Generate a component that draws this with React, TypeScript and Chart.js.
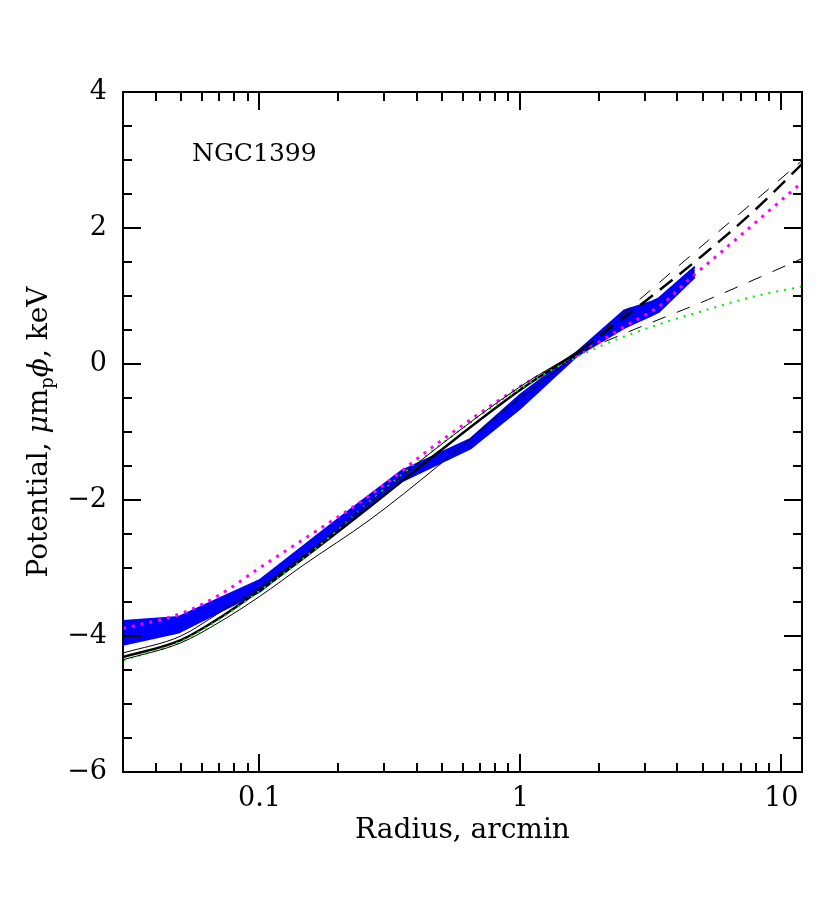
import { useEffect, useRef } from 'react';
import { Chart, registerables } from 'chart.js';

Chart.register(...registerables);

// ---- axis / labels ----
const xMin = 0.03;
const xMax = 12;
const yMin = -6;
const yMax = 4;
const xTickLabels = [0.1, 1, 10];
const yMajorStep = 2;
const yMinorStep = 0.5;
const objectName = 'NGC1399';
const xTitle = 'Radius, arcmin';

// ---- observed potential band (blue) ----
const rBlue = [0.03, 0.049, 0.1, 0.2, 0.35, 0.644, 1.0, 1.65, 2.5, 3.2, 3.4, 4.66];
const blueHigh = [-3.78, -3.72, -3.18, -2.28, -1.57, -1.10, -0.45, 0.18, 0.79, 0.92, 0.97, 1.43];
const blueLow = [-4.13, -3.95, -3.35, -2.45, -1.73, -1.24, -0.65, 0.12, 0.53, 0.72, 0.77, 1.28];

// ---- best model (thick black) ----
const rBestIn = [0.03, 0.05, 0.07, 0.1, 0.147, 0.265, 0.48, 1.0, 1.7];
const bestIn = [-4.31, -4.06, -3.74, -3.33, -2.86, -2.10, -1.31, -0.38, 0.2];
const rBestOut = [1.7, 3, 5, 8, 12];
const bestOut = [0.2, 0.92, 1.6, 2.28, 2.94];

// ---- upper envelope (thin black) ----
const rUpIn = [0.03, 0.05, 0.07, 0.1, 0.15, 0.265, 0.48, 1.0, 1.7];
const upIn = [-4.25, -4.0, -3.66, -3.28, -2.8, -2.03, -1.23, -0.33, 0.2];
const rUpOut = [1.7, 2.75, 5.26, 12];
const upOut = [0.2, 0.89, 1.82, 2.99];

// ---- lower envelope (thin black) ----
const rLoIn = [0.03, 0.05, 0.07, 0.1, 0.147, 0.265, 0.48, 0.845, 1.7];
const loIn = [-4.35, -4.1, -3.8, -3.42, -2.96, -2.29, -1.51, -0.72, 0.18];
const rLoOut = [1.7, 2.8, 5.26, 12];
const loOut = [0.18, 0.525, 0.95, 1.55];

// ---- green dotted model ----
const rGreen = [0.03, 0.05, 0.07, 0.1, 0.15, 0.265, 0.48, 1.0, 1.6, 2.3, 3.5, 5.42, 8, 12];
const green = [-4.36, -4.08, -3.76, -3.34, -2.84, -2.02, -1.22, -0.36, 0.08, 0.35, 0.6, 0.82, 1.0, 1.14];

// ---- magenta dotted model ----
const rMag = [0.03, 0.05, 0.07, 0.1, 0.15, 0.265, 0.48, 1.0, 1.6, 2.44, 3.46, 4.54, 5.42, 12];
const magenta = [-3.89, -3.67, -3.4, -3.0, -2.56, -1.93, -1.17, -0.33, 0.1, 0.525, 0.87, 1.28, 1.53, 2.67];

const pts = (xs: number[], ys: number[]) => xs.map((x, i) => ({ x, y: ys[i] }));

const FONT = '"DejaVu Serif", serif';
const TICK_SIZE = 27;
const TITLE_SIZE = 28;

const fmtY = (v: number) => (v < 0 ? '\u2212' + Math.abs(v) : String(v));

const decor = {
  id: 'decor',
  afterDraw(chart: any) {
    const { ctx, chartArea: a, scales } = chart;
    const xs = scales.x;
    const ys = scales.y;
    ctx.save();
    ctx.strokeStyle = '#000';
    ctx.lineWidth = 2;
    ctx.lineCap = 'butt';
    // y ticks (left & right, inward)
    for (let v = yMin; v <= yMax + 1e-9; v += yMinorStep) {
      const py = Math.round(ys.getPixelForValue(v));
      const major = Math.abs(v / yMajorStep - Math.round(v / yMajorStep)) < 1e-6;
      const len = major ? 18 : 9;
      ctx.beginPath();
      ctx.moveTo(a.left, py);
      ctx.lineTo(a.left + len, py);
      ctx.moveTo(a.right, py);
      ctx.lineTo(a.right - len, py);
      ctx.stroke();
    }
    // x ticks (log, bottom & top, inward)
    for (let d = 0.01; d < 100; d *= 10) {
      for (let k = 1; k <= 9; k++) {
        const v = k * d;
        if (v < xMin * 0.999 || v > xMax * 1.001) continue;
        const px = Math.round(xs.getPixelForValue(v));
        const len = k === 1 ? 18 : 9;
        ctx.beginPath();
        ctx.moveTo(px, a.bottom);
        ctx.lineTo(px, a.bottom - len);
        ctx.moveTo(px, a.top);
        ctx.lineTo(px, a.top + len);
        ctx.stroke();
      }
    }
    // frame
    ctx.strokeRect(a.left, a.top, a.right - a.left, a.bottom - a.top);

    // object label
    ctx.fillStyle = '#000';
    ctx.font = `25px ${FONT}`;
    ctx.textAlign = 'left';
    ctx.textBaseline = 'alphabetic';
    ctx.fillText(objectName, 192, 161);

    // y title with subscript
    const normal = `${TITLE_SIZE}px ${FONT}`;
    const italic = `italic ${TITLE_SIZE}px ${FONT}`;
    const small = `${Math.round(TITLE_SIZE * 0.65)}px ${FONT}`;
    const segs = [
      { t: 'Potential, ', f: normal, dy: 0 },
      { t: '\u03BC', f: italic, dy: 0 },
      { t: 'm', f: normal, dy: 0 },
      { t: 'p', f: small, dy: 6 },
      { t: '\u03D5', f: italic, dy: 0 },
      { t: ', keV', f: normal, dy: 0 },
    ];
    let total = 0;
    const widths = segs.map((s) => {
      ctx.font = s.f;
      const w = ctx.measureText(s.t).width;
      total += w;
      return w;
    });
    const cy = (a.top + a.bottom) / 2;
    ctx.translate(47, cy);
    ctx.rotate(-Math.PI / 2);
    let x0 = -total / 2;
    segs.forEach((s, i) => {
      ctx.font = s.f;
      ctx.fillText(s.t, x0, s.dy);
      x0 += widths[i];
    });
    ctx.restore();
  },
};

export default function App() {
  const ref = useRef<HTMLCanvasElement | null>(null);
  useEffect(() => {
    if (!ref.current) return;
    const black = '#000000';
    const lineBase = {
      pointRadius: 0,
      fill: false,
      cubicInterpolationMode: 'monotone' as const,
      order: 0,
    };
    const chart = new Chart(ref.current, {
      type: 'line',
      data: {
        datasets: [
          {
            label: 'obs low',
            data: pts(rBlue, blueLow),
            borderColor: '#0000ff',
            backgroundColor: '#0000ff',
            borderWidth: 2,
            pointRadius: 0,
            tension: 0,
            fill: '+1',
            order: 10,
          },
          {
            label: 'obs high',
            data: pts(rBlue, blueHigh),
            borderColor: '#0000ff',
            backgroundColor: '#0000ff',
            borderWidth: 2,
            pointRadius: 0,
            tension: 0,
            fill: false,
            order: 10,
          },
          { ...lineBase, label: 'up in', data: pts(rUpIn, upIn), borderColor: black, borderWidth: 1 },
          { ...lineBase, label: 'lo in', data: pts(rLoIn, loIn), borderColor: black, borderWidth: 1 },
          { ...lineBase, label: 'up out', data: pts(rUpOut, upOut), borderColor: black, borderWidth: 1, borderDash: [14, 12] },
          { ...lineBase, label: 'lo out', data: pts(rLoOut, loOut), borderColor: black, borderWidth: 1, borderDash: [14, 12] },
          { ...lineBase, label: 'green', data: pts(rGreen, green), borderColor: '#00ee00', borderWidth: 2, borderDash: [2, 6] },
          { ...lineBase, label: 'best in', data: pts(rBestIn, bestIn), borderColor: black, borderWidth: 2.5 },
          { ...lineBase, label: 'best out', data: pts(rBestOut, bestOut), borderColor: black, borderWidth: 2.5, borderDash: [16, 9] },
          { ...lineBase, label: 'magenta', data: pts(rMag, magenta), borderColor: '#ff00ff', borderWidth: 3, borderDash: [3, 6] },
        ],
      },
      options: {
        animation: false,
        responsive: false,
        maintainAspectRatio: false,
        layout: { padding: { left: 0, right: 28, top: 92, bottom: 0 } },
        plugins: { legend: { display: false }, tooltip: { enabled: false } },
        scales: {
          x: {
            type: 'logarithmic',
            min: xMin,
            max: xMax,
            grid: { display: false, drawTicks: false },
            border: { display: false },
            afterBuildTicks: (scale: any) => {
              scale.ticks = xTickLabels.map((v) => ({ value: v }));
            },
            afterFit: (scale: any) => {
              scale.height = 911 - 772;
            },
            ticks: {
              autoSkip: false,
              maxRotation: 0,
              padding: 11,
              color: '#000',
              font: { family: FONT, size: TICK_SIZE },
              callback: (v: any) => String(v),
            },
            title: {
              display: true,
              text: xTitle,
              color: '#000',
              font: { family: FONT, size: TITLE_SIZE },
              padding: { top: 0, bottom: 63 },
            },
          },
          y: {
            type: 'linear',
            min: yMin,
            max: yMax,
            grid: { display: false, drawTicks: false },
            border: { display: false },
            afterFit: (scale: any) => {
              scale.width = 123;
            },
            ticks: {
              stepSize: yMajorStep,
              padding: 16,
              color: '#000',
              font: { family: FONT, size: TICK_SIZE },
              callback: (v: any) => fmtY(Number(v)),
            },
          },
        },
      },
      plugins: [decor],
    });
    return () => chart.destroy();
  }, []);
  return (
    <div style={{ position: 'absolute', left: 0, top: 0, width: 830, height: 911, background: '#fff' }}>
      <canvas ref={ref} width={830} height={911} style={{ width: 830, height: 911, display: 'block' }} />
    </div>
  );
}
